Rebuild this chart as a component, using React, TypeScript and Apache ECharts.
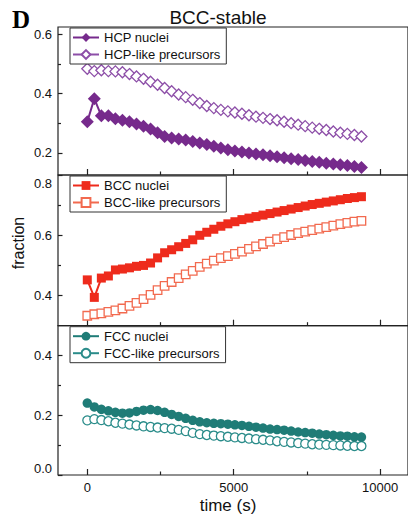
import React, { useEffect, useRef } from 'react';
import * as echarts from 'echarts';

const times = [0, 240, 480, 720, 960, 1200, 1440, 1680, 1920, 2160, 2400, 2640, 2880, 3120, 3360, 3600, 3840, 4080, 4320, 4560, 4800, 5040, 5280, 5520, 5760, 6000, 6240, 6480, 6720, 6960, 7200, 7440, 7680, 7920, 8160, 8400, 8640, 8880, 9120, 9360];

const hcpNuclei = [0.305, 0.383, 0.325, 0.325, 0.315, 0.31, 0.305, 0.297, 0.29, 0.28, 0.268, 0.255, 0.25, 0.247, 0.243, 0.238, 0.233, 0.228, 0.222, 0.216, 0.21, 0.206, 0.203, 0.199, 0.196, 0.193, 0.19, 0.187, 0.183, 0.18, 0.177, 0.174, 0.171, 0.168, 0.165, 0.162, 0.16, 0.157, 0.154, 0.15];
const hcpPrecursors = [0.484, 0.476, 0.479, 0.476, 0.475, 0.472, 0.466, 0.458, 0.45, 0.44, 0.43, 0.419, 0.408, 0.397, 0.388, 0.379, 0.368, 0.358, 0.351, 0.345, 0.34, 0.336, 0.332, 0.327, 0.322, 0.318, 0.314, 0.31, 0.305, 0.3, 0.295, 0.29, 0.285, 0.281, 0.277, 0.272, 0.268, 0.264, 0.26, 0.255];
const bccNuclei = [0.452, 0.394, 0.458, 0.465, 0.485, 0.488, 0.492, 0.497, 0.5, 0.508, 0.525, 0.542, 0.552, 0.562, 0.573, 0.585, 0.6, 0.61, 0.62, 0.63, 0.638, 0.645, 0.652, 0.657, 0.662, 0.667, 0.672, 0.677, 0.682, 0.687, 0.692, 0.697, 0.702, 0.706, 0.71, 0.714, 0.718, 0.722, 0.725, 0.728];
const bccPrecursors = [0.333, 0.338, 0.341, 0.346, 0.351, 0.357, 0.366, 0.376, 0.388, 0.402, 0.418, 0.432, 0.445, 0.458, 0.47, 0.482, 0.495, 0.506, 0.516, 0.524, 0.531, 0.538, 0.546, 0.555, 0.563, 0.571, 0.579, 0.587, 0.594, 0.601, 0.607, 0.612, 0.617, 0.622, 0.627, 0.632, 0.637, 0.641, 0.645, 0.648];
const fccNuclei = [0.241, 0.228, 0.22, 0.215, 0.21, 0.207, 0.208, 0.213, 0.217, 0.219, 0.216, 0.21, 0.203, 0.196, 0.19, 0.183, 0.178, 0.175, 0.173, 0.172, 0.17, 0.168, 0.166, 0.163, 0.16, 0.157, 0.154, 0.152, 0.15, 0.147, 0.144, 0.142, 0.14, 0.137, 0.135, 0.133, 0.131, 0.13, 0.128, 0.127];
const fccPrecursors = [0.183, 0.187, 0.184, 0.18, 0.175, 0.172, 0.169, 0.166, 0.163, 0.161, 0.159, 0.157, 0.155, 0.151, 0.147, 0.141, 0.137, 0.134, 0.132, 0.13, 0.128, 0.126, 0.124, 0.122, 0.12, 0.118, 0.116, 0.113, 0.111, 0.109, 0.107, 0.105, 0.103, 0.102, 0.101, 0.1, 0.099, 0.098, 0.097, 0.097];

const xMajorTicks = [0, 5000, 10000];
const xMinorTicks = [2500, 7500];
const yMinByPanel = [0.125, 0.3, 0];
const yMaxByPanel = [0.625, 0.8, 0.5];
const yMajorTicks = [[0.2, 0.4, 0.6], [0.4, 0.6, 0.8], [0, 0.2, 0.4]];
const yMinorTicks = [[0.3, 0.5], [0.5, 0.7], [0.1, 0.3]];
const nucleiNames = ['HCP nuclei', 'BCC nuclei', 'FCC nuclei'];
const precursorNames = ['HCP-like precursors', 'BCC-like precursors', 'FCC-like precursors'];

const FONT = '"Liberation Sans", Arial, sans-serif';
const AX = '#222';

export default function App() {
  const ref = useRef<HTMLDivElement>(null);
  useEffect(() => {
    if (!ref.current) return;
    const chart = echarts.init(ref.current, undefined, { renderer: 'svg' });
    const gridTops = [27, 175, 325.7];
    const gridHeights = [148, 150.7, 149.3];
    const nucleiData = [hcpNuclei, bccNuclei, fccNuclei];
    const precData = [hcpPrecursors, bccPrecursors, fccPrecursors];
    const solidColors = ['#762a8c', '#ee2b1c', '#1f7c77'];
    const openColors = ['#8d4fa8', '#f26a4f', '#2a8c8a'];
    const solidSymbols = ['diamond', 'rect', 'circle'];
    const solidSizes = [13, 9, 9.5];
    const openSizes = [11, 8.5, 9];

    const grid: any[] = [];
    const xAxis: any[] = [];
    const yAxis: any[] = [];
    const legend: any[] = [];
    const series: any[] = [];

    for (let g = 0; g < 3; g++) {
      grid.push({
        left: 58, right: -3, top: gridTops[g], height: gridHeights[g],
        show: true, borderColor: AX, borderWidth: 1.2, backgroundColor: 'transparent',
      });
      xAxis.push({
        gridIndex: g, type: 'value', position: 'bottom', min: -1000, max: 10950,
        axisLine: { show: false, onZero: false }, splitLine: { show: false },
        axisTick: { show: true, inside: true, length: 6, customValues: xMajorTicks, lineStyle: { color: AX, width: 1.2 } },
        axisLabel: { show: g === 2, customValues: xMajorTicks, margin: 6, fontSize: 13, color: '#111', fontFamily: FONT, formatter: (v: number) => String(v) },
      });
      xAxis.push({
        gridIndex: g, type: 'value', position: 'bottom', min: -1000, max: 10950,
        axisLine: { show: false, onZero: false }, splitLine: { show: false }, axisLabel: { show: false },
        axisTick: { show: true, inside: true, length: 3.5, customValues: xMinorTicks, lineStyle: { color: AX, width: 1.2 } },
      });
      yAxis.push({
        gridIndex: g, type: 'value', position: 'left', min: yMinByPanel[g], max: yMaxByPanel[g],
        axisLine: { show: false, onZero: false }, splitLine: { show: false },
        axisTick: { show: true, inside: true, length: 4.5, customValues: yMajorTicks[g], lineStyle: { color: AX, width: 1.2 } },
        axisLabel: {
          customValues: yMajorTicks[g], margin: 6, fontSize: 13, color: '#111', fontFamily: FONT,
          showMinLabel: true, showMaxLabel: true,
          formatter: (v: number) => {
            const s = v.toFixed(1);
            if (g === 1 && Math.abs(v - 0.8) < 1e-6) return '{dn|' + s + '}';
            if (g === 2 && Math.abs(v) < 1e-6) return '{up|' + s + '}';
            return s;
          },
          rich: {
            dn: { padding: [17, 0, 0, 0], fontSize: 13, color: '#111', fontFamily: FONT },
            up: { padding: [0, 0, 13, 0], fontSize: 13, color: '#111', fontFamily: FONT },
          },
        },
      });
      yAxis.push({
        gridIndex: g, type: 'value', position: 'left', offset: 0, min: yMinByPanel[g], max: yMaxByPanel[g],
        axisLine: { show: false, onZero: false }, splitLine: { show: false }, axisLabel: { show: false },
        axisTick: { show: true, inside: true, length: 3, customValues: yMinorTicks[g], lineStyle: { color: AX, width: 1.2 } },
      });
      legend.push({
        left: 70, top: gridTops[g] + 1, orient: 'vertical',
        data: [nucleiNames[g], precursorNames[g]],
        borderColor: '#333', borderWidth: 1, backgroundColor: '#fff', borderRadius: 0,
        padding: [3, 6, 3, 2], itemGap: 4, itemWidth: 26, itemHeight: 11,
        selectedMode: false,
        textStyle: { fontSize: 13, color: '#111', fontFamily: FONT },
      });
      series.push({
        type: 'line', name: precursorNames[g], xAxisIndex: 2 * g, yAxisIndex: 2 * g,
        data: times.map((t, i) => [t, precData[g][i]]),
        symbol: solidSymbols[g], symbolSize: openSizes[g], showSymbol: true,
        lineStyle: { color: openColors[g], width: 2 },
        itemStyle: { color: '#fff', borderColor: openColors[g], borderWidth: 1.3 },
        emphasis: { disabled: true }, z: 2,
      });
      series.push({
        type: 'line', name: nucleiNames[g], xAxisIndex: 2 * g, yAxisIndex: 2 * g,
        data: times.map((t, i) => [t, nucleiData[g][i]]),
        symbol: solidSymbols[g], symbolSize: solidSizes[g], showSymbol: true,
        lineStyle: { color: solidColors[g], width: 2 },
        itemStyle: { color: solidColors[g], borderColor: solidColors[g], borderWidth: 0 },
        emphasis: { disabled: true }, z: 3,
      });
    }

    chart.setOption({
      animation: false,
      backgroundColor: '#fff',
      grid, xAxis, yAxis, legend, series,
      graphic: [
        { type: 'text', x: 12, y: 19, style: { text: 'D', align: 'left', verticalAlign: 'middle', font: 'bold 25px "Liberation Serif", "Times New Roman", serif', fill: '#000' } },
        { type: 'text', x: 218, y: 17, style: { text: 'BCC-stable', align: 'center', verticalAlign: 'middle', font: '19px ' + FONT, fill: '#111' } },
        { type: 'text', x: 18, y: 243, rotation: Math.PI / 2, style: { text: 'fraction', align: 'center', verticalAlign: 'middle', font: '16px ' + FONT, fill: '#111' } },
        { type: 'text', x: 228, y: 505, style: { text: 'time (s)', align: 'center', verticalAlign: 'middle', font: '17px ' + FONT, fill: '#111' } },
      ],
    });
    return () => chart.dispose();
  }, []);
  return <div ref={ref} style={{ position: 'fixed', left: 0, top: 0, width: 408, height: 519 }} />;
}
